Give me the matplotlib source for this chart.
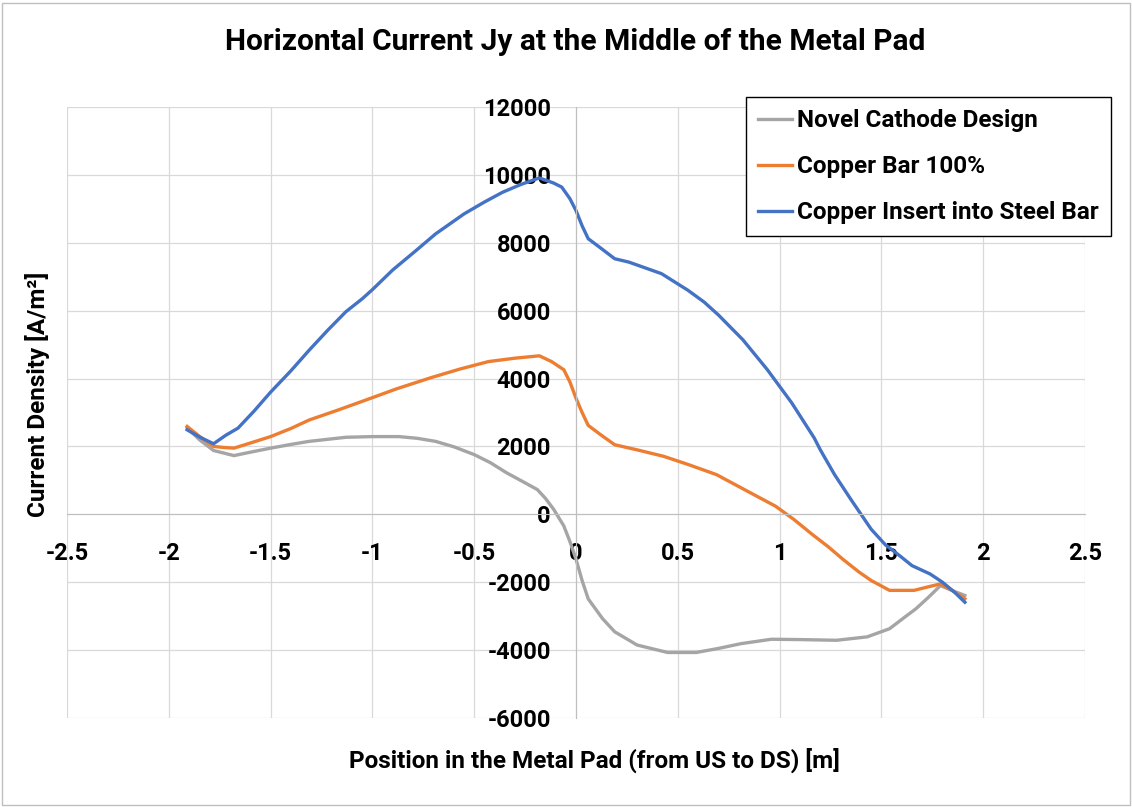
import matplotlib
matplotlib.use("Agg")
import matplotlib.pyplot as plt
from matplotlib.patches import Rectangle
from matplotlib.ticker import FuncFormatter

plt.rcParams['font.family'] = ['Roboto', 'DejaVu Sans']
plt.rcParams['axes.unicode_minus'] = False

# Novel Cathode Design (gray)
novel_x = [-1.91, -1.85, -1.78, -1.68, -1.60, -1.50, -1.40, -1.31, -1.13, -1.00,
           -0.87, -0.78, -0.69, -0.60, -0.50, -0.42, -0.34, -0.26, -0.19, -0.15,
           -0.11, -0.06, -0.03, 0.00, 0.03, 0.06, 0.13, 0.19, 0.30, 0.45,
           0.59, 0.70, 0.81, 0.96, 1.10, 1.28, 1.43, 1.54, 1.61, 1.67,
           1.73, 1.79, 1.85, 1.91]
novel_y = [2550, 2200, 1880, 1730, 1830, 1950, 2060, 2150, 2270, 2290,
           2290, 2240, 2150, 1990, 1760, 1520, 1220, 960, 730, 470,
           150, -340, -800, -1320, -1950, -2490, -3070, -3460, -3850, -4070,
           -4070, -3950, -3810, -3680, -3690, -3710, -3610, -3370, -3050, -2780,
           -2450, -2100, -2250, -2390]

# Copper Bar 100% (orange)
copper_x = [-1.91, -1.85, -1.78, -1.73, -1.68, -1.60, -1.50, -1.40, -1.31, -1.17,
            -1.04, -0.88, -0.71, -0.57, -0.43, -0.30, -0.18, -0.12, -0.06, -0.03,
            0.00, 0.03, 0.06, 0.12, 0.19, 0.30, 0.43, 0.55, 0.69, 0.83,
            0.98, 1.07, 1.16, 1.24, 1.31, 1.39, 1.45, 1.54, 1.66, 1.72,
            1.79, 1.85, 1.91]
copper_y = [2590, 2300, 2000, 1970, 1950, 2100, 2290, 2530, 2780, 3070,
            3350, 3700, 4030, 4280, 4500, 4600, 4670, 4500, 4260, 3900,
            3420, 3000, 2620, 2350, 2050, 1900, 1710, 1470, 1170, 720,
            240, -150, -590, -960, -1320, -1700, -1950, -2240, -2240, -2150,
            -2050, -2250, -2490]

# Copper Insert into Steel Bar (blue)
insert_x = [-1.91, -1.85, -1.78, -1.72, -1.66, -1.58, -1.50, -1.40, -1.31, -1.22,
            -1.13, -1.05, -1.00, -0.90, -0.78, -0.69, -0.55, -0.45, -0.36, -0.27,
            -0.18, -0.11, -0.07, -0.03, 0.00, 0.03, 0.06, 0.12, 0.19, 0.26,
            0.34, 0.42, 0.55, 0.63, 0.70, 0.82, 0.94, 1.06, 1.17, 1.20,
            1.27, 1.35, 1.40, 1.45, 1.52, 1.59, 1.65, 1.74, 1.80, 1.86,
            1.91]
insert_y = [2490, 2280, 2080, 2330, 2540, 3050, 3600, 4230, 4840, 5420,
            5970, 6350, 6620, 7200, 7800, 8260, 8850, 9200, 9490, 9720,
            9910, 9760, 9640, 9300, 8950, 8500, 8120, 7850, 7530, 7430,
            7260, 7090, 6600, 6250, 5870, 5140, 4260, 3280, 2250, 1900,
            1170, 440, 0, -440, -900, -1220, -1510, -1760, -2000, -2300,
            -2590]

x_ticks = [-2.5, -2, -1.5, -1, -0.5, 0, 0.5, 1, 1.5, 2, 2.5]
y_ticks = [-6000, -4000, -2000, 0, 2000, 4000, 6000, 8000, 10000, 12000]

fig = plt.figure(figsize=(11.32, 8.07), dpi=100)
ax = fig.add_axes([67 / 1132, 1 - 718 / 807, 1018 / 1132, 611 / 807])

ax.plot(novel_x, novel_y, color='#A5A5A5', lw=2.4, label='Novel Cathode Design')
ax.plot(copper_x, copper_y, color='#ED7D31', lw=2.4, label='Copper Bar 100%')
ax.plot(insert_x, insert_y, color='#4472C4', lw=2.4, label='Copper Insert into Steel Bar')

ax.set_xlim(-2.5, 2.5)
ax.set_ylim(-6000, 12000)
ax.set_xticks(x_ticks)
ax.set_yticks(y_ticks)
ax.xaxis.set_major_formatter(FuncFormatter(lambda v, p: f"{v:g}"))
ax.grid(True, color='#D9D9D9', lw=0.9)
ax.set_axisbelow(True)

for s in ['top', 'right']:
    ax.spines[s].set_visible(False)
ax.spines['left'].set_position(('data', 0))
ax.spines['bottom'].set_position(('data', 0))
ax.spines['left'].set_color('#BFBFBF')
ax.spines['bottom'].set_color('#BFBFBF')
ax.tick_params(axis='both', length=0, labelsize=17)
ax.tick_params(axis='x', pad=20)
ax.tick_params(axis='y', pad=18)
for lbl in ax.get_xticklabels() + ax.get_yticklabels():
    lbl.set_fontweight('bold')

leg = ax.legend(loc='upper right', bbox_to_anchor=(1111 / 1132, 1 - 97 / 807),
                bbox_transform=fig.transFigure, borderaxespad=0, fancybox=False,
                framealpha=1, edgecolor='black', handlelength=1.4, handletextpad=0.2,
                labelspacing=0.95, borderpad=0.5,
                prop={'size': 17.5, 'weight': 'bold'})
leg.get_frame().set_linewidth(1.0)

fig.text(575 / 1132, 1 - 42 / 807, 'Horizontal Current Jy at the Middle of the Metal Pad',
         ha='center', va='center', fontsize=21.5, fontweight='bold')
fig.text(594 / 1132, 1 - 760 / 807, 'Position in the Metal Pad (from US to DS) [m]',
         ha='center', va='center', fontsize=17.5, fontweight='bold')
fig.text(38 / 1132, 1 - 394 / 807, 'Current Density [A/m²]', rotation=90,
         ha='center', va='center', fontsize=17.5, fontweight='bold')

fig.patches.append(Rectangle((0.002, 0.002), 0.996, 0.994, transform=fig.transFigure,
                             fill=False, edgecolor='#BFBFBF', lw=1))

fig.savefig('out.png', dpi=100)
